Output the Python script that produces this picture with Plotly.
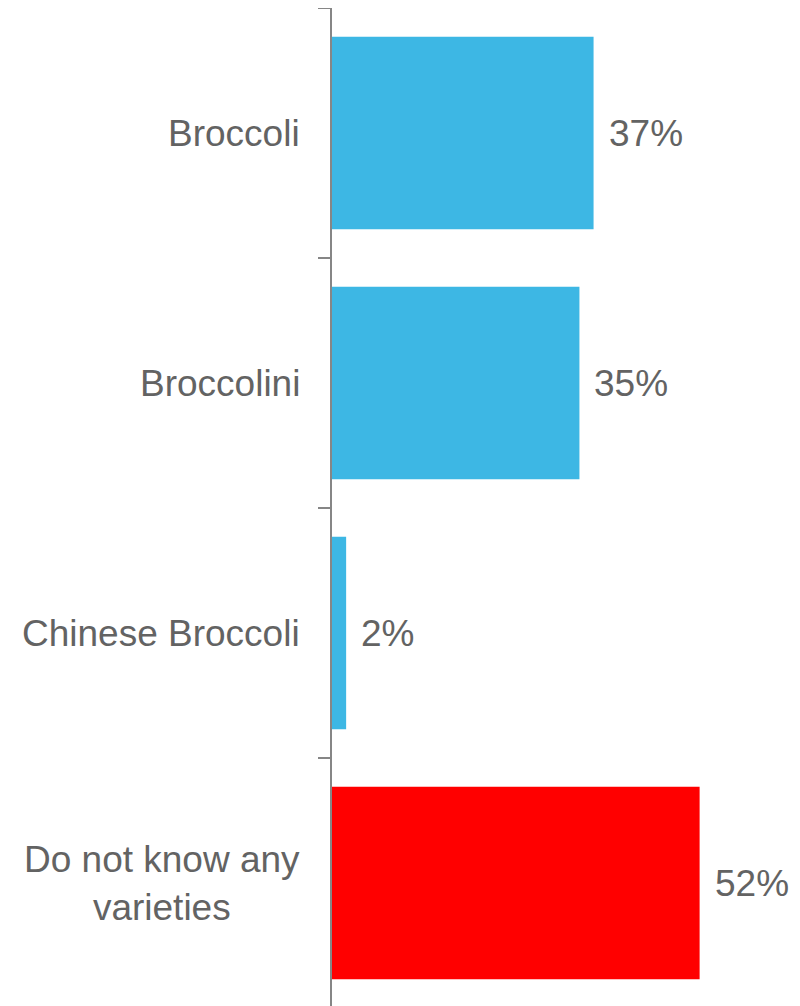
import plotly.graph_objects as go

categories = ["Broccoli", "Broccolini", "Chinese Broccoli", "Do not know any<br>varieties"]
values = [0.37, 0.35, 0.02, 0.52]
value_labels = ["37%", "35%", "2%", "52%"]
bar_colors = ["#3DB7E4", "#3DB7E4", "#3DB7E4", "#FF0000"]

FONT = "Liberation Sans, Arial, sans-serif"
TXT = "#636363"

fig = go.Figure()
fig.add_trace(go.Bar(
    x=values, y=list(range(len(categories))), orientation="h",
    marker=dict(color=bar_colors, line=dict(width=0)),
    width=0.77, hoverinfo="skip",
))

annotations = []
for i, (c, v, t) in enumerate(zip(categories, values, value_labels)):
    annotations.append(dict(
        x=0, y=i, xref="x", yref="y", text=c, showarrow=False,
        xanchor="right", yanchor="middle", align="center", xshift=-30,
        font=dict(family=FONT, size=37, color=TXT),
    ))
    annotations.append(dict(
        x=v, y=i, xref="x", yref="y", text=t, showarrow=False,
        xanchor="left", yanchor="middle", xshift=13,
        font=dict(family=FONT, size=37, color=TXT),
    ))

fig.update_layout(
    width=792, height=998,
    margin=dict(l=324, r=0, t=0, b=0),
    paper_bgcolor="white", plot_bgcolor="white",
    showlegend=False,
    annotations=annotations,
    xaxis=dict(range=[0, 0.662], showgrid=False, zeroline=False,
               showticklabels=False, showline=False, ticks=""),
    yaxis=dict(range=[3.492, -0.5], showgrid=False, zeroline=False,
               showticklabels=False, showline=True, linecolor="#868686", linewidth=2,
               ticks="outside", ticklen=12, tickwidth=2, tickcolor="#868686",
               tickmode="array", tickvals=[-0.5, 0.5, 1.5, 2.5]),
)

fig.write_html("out.html")
